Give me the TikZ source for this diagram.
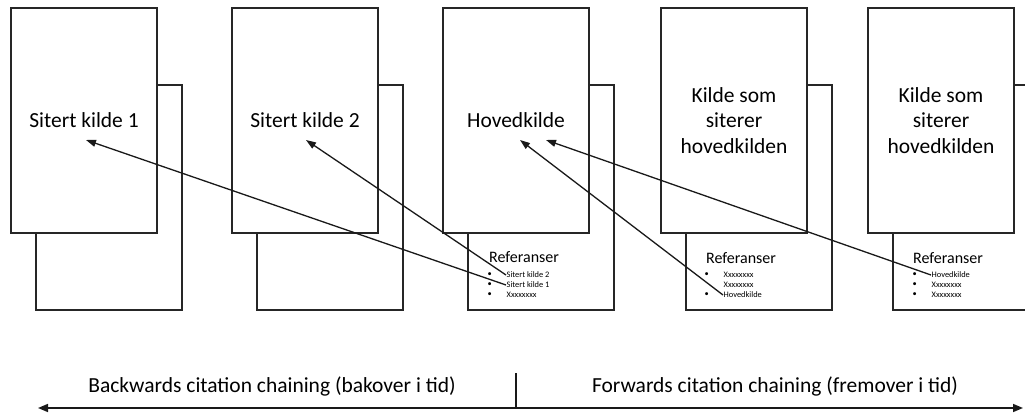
\documentclass[tikz,border=0pt]{standalone}
\usepackage{fontspec}
\setmainfont{Carlito}
\usepackage{tikz}
\usetikzlibrary{arrows.meta, positioning}
\tikzset{
    backnode/.style = {draw=black!85, rectangle, fill=white, line width=1.6pt, outer sep=0pt,
      minimum width=146pt, minimum height=225pt, node distance=0em},
    frontnode/.style = {draw=black!85, rectangle, fill=white, line width=1.6pt, outer sep=0pt,
      minimum width=146pt, minimum height=225pt, node distance=0em, align=center,
      font=\fontsize{21.5}{25.5}\selectfont},
    reftitle/.style = {draw=none, inner sep=0pt, anchor=west, font=\fontsize{16}{16}\selectfont},
    plainitem/.style = {draw=none, inner sep=0.5pt, anchor=west, font=\fontsize{8.4}{8.4}\selectfont},
    refitem/.style = {plainitem, label={[inner sep=0pt, label distance=14pt,
      font=\fontsize{8.4}{8.4}\selectfont]left:\textbullet}},
    textnode/.style = {draw=none, fill=none, inner sep=0pt, font=\fontsize{21.5}{21.5}\selectfont},
    connect/.style = {black!90, line width=1.3pt, -{Triangle[length=10pt, width=7pt]}},
    timeline/.style = {black!90, line width=1.6pt,
      {Triangle[length=10pt, width=8pt]}-{Triangle[length=10pt, width=8pt]}}
}

\begin{document}
\begin{tikzpicture}[x=1pt, y=1pt]
    \useasboundingbox (0,-414) rectangle (1025,0);
    \clip (0,-414) rectangle (1025,0);

    % pages behind
    \node [name=B1, backnode] at (109,-197.5) {};
    \node [name=B2, backnode, right of = B1, xshift=221pt] {};
    \node [name=B3, backnode, right of = B2, xshift=211pt] {};
    \node [name=B4, backnode, right of = B3, xshift=218pt] {};
    \node [name=B5, backnode, right of = B4, xshift=207pt] {};

    % pages in front
    \node [name=F1, frontnode, above of = B1, xshift=-25pt, yshift=77pt] {Sitert kilde 1};
    \node [name=F2, frontnode, above of = B2, xshift=-25pt, yshift=77pt] {Sitert kilde 2};
    \node [name=F3, frontnode, above of = B3, xshift=-25pt, yshift=77pt] {Hovedkilde};
    \node [name=F4, frontnode, above of = B4, xshift=-25pt, yshift=77pt] {Kilde som\\siterer\\hovedkilden};
    \node [name=F5, frontnode, above of = B5, xshift=-25pt, yshift=77pt] {Kilde som\\siterer\\hovedkilden};

    % reference lists
    \node [name=R3, reftitle] at ([xshift=21pt, yshift=53pt]B3.south west) {Referanser};
    \node [name=R3a, refitem] at ([xshift=17pt, yshift=-18pt]R3.west) {Sitert kilde 2};
    \node [name=R3b, refitem] at ([xshift=17pt, yshift=-28pt]R3.west) {Sitert kilde 1};
    \node [name=R3c, refitem] at ([xshift=17pt, yshift=-38pt]R3.west) {Xxxxxxxx};

    \node [name=R4, reftitle] at ([xshift=20pt, yshift=52pt]B4.south west) {Referanser};
    \node [name=R4a, refitem] at ([xshift=17pt, yshift=-17pt]R4.west) {Xxxxxxxx};
    \node [name=R4b, plainitem] at ([xshift=17pt, yshift=-27pt]R4.west) {Xxxxxxxx};
    \node [name=R4c, refitem] at ([xshift=17pt, yshift=-37pt]R4.west) {Hovedkilde};

    \node [name=R5, reftitle] at ([xshift=20pt, yshift=52pt]B5.south west) {Referanser};
    \node [name=R5a, refitem] at ([xshift=18pt, yshift=-17pt]R5.west) {Hovedkilde};
    \node [name=R5b, refitem] at ([xshift=18pt, yshift=-27pt]R5.west) {Xxxxxxxx};
    \node [name=R5c, refitem] at ([xshift=18pt, yshift=-37pt]R5.west) {Xxxxxxxx};

    % citations
    \draw [connect] (R3b.west) -- ([xshift=2pt, yshift=-19.5pt]F1.center);
    \draw [connect] (R3a.west) -- ([xshift=1pt, yshift=-19.5pt]F2.center);
    \draw [connect] (R4c.west) -- ([xshift=4pt, yshift=-19.5pt]F3.center);
    \draw [connect] (R5a.west) -- ([xshift=30pt, yshift=-19.5pt]F3.center);

    % time line
    \coordinate (TL) at (38,-408);
    \coordinate (TR) at (1023,-408);
    \coordinate (TM) at (516,-408);
    \coordinate (TT) at (516,-373);
    \draw [timeline] (TL) -- (TR);
    \draw [black!90, line width=1.3pt] (TM) -- (TT);
    \node [name=BACK, textnode] at (272,-386) {Backwards citation chaining (bakover i tid)};
    \node [name=FWD, textnode] at (775,-386) {Forwards citation chaining (fremover i tid)};
\end{tikzpicture}
\end{document}
